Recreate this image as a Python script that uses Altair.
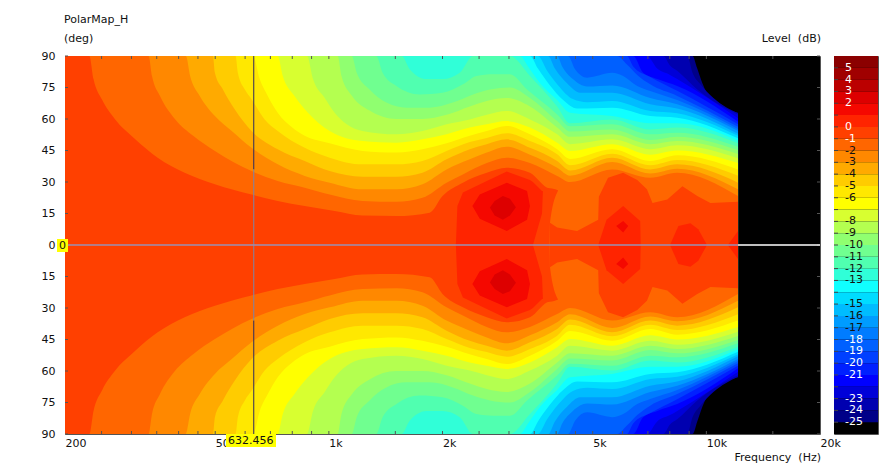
import altair as alt
import pandas as pd

FONT = "DejaVu Sans"
W, H = 755, 378
X_DOM, Y_DOM = [200, 20000], [-90, 90]
EDGE = 12130
CURSOR = 632.456

LEVELS = [5, 4, 3, 2, 1, 0, -1, -2, -3, -4, -5, -6, -7, -8, -9, -10, -11, -12, -13, -14, -15,
          -16, -17, -18, -19, -20, -21, -22, -23, -24, -25]
COLORS = ["#8b0000", "#a00000", "#bb0000", "#dd0000", "#f50800", "#ff2400", "#ff4000", "#ff6600",
          "#ff8800", "#ffaa00", "#ffcc00", "#ffe800", "#ffff00", "#d8ff30", "#b4ff50", "#90ff70",
          "#70ff90", "#50ffb0", "#30ffd8", "#10ffff", "#00dcff", "#00bcff", "#009cff", "#007cff",
          "#0060ff", "#0040ff", "#0020ff", "#0000ff", "#0000d8", "#0000b0", "#000088"]
BAR_LABELS = [5, 4, 3, 2, 0, -1, -2, -3, -4, -5, -6, -8, -9, -10, -11, -12, -13, -15, -16, -17,
              -18, -19, -20, -21, -23, -24, -25]
WHITE_LABELS = [5, 4, 3, 2, 0, -1, -18, -19, -20, -21, -23, -24, -25]

F_M25 = [200, 9190, 9460, 9760, 10250, 12130]
A_M25 = [90, 90, 84, 77, 70, 63]
F_M24 = [200, 8900, 9190, 9640, 10440, 12130]
A_M24 = [90, 90, 82, 76.5, 70, 62.7]
F_M23 = [200, 7690, 8010, 8370, 9460, 12130]
A_M23 = [90, 90, 85.5, 83, 74, 62]
F_M22 = [200, 6960, 7410, 8010, 8370, 12130]
A_M22 = [90, 90, 84, 81, 79, 60.3]
F_M21 = [200, 6400, 6800, 7410, 8370, 12130]
A_M21 = [90, 90, 82, 79, 75.7, 58.7]
F_M20 = [200, 6160, 6400, 7100, 8370, 12130]
A_M20 = [90, 90, 85, 80, 73.4, 57.5]
F_M19 = [200, 5800, 6160, 6560, 7100, 8370, 12130]
A_M19 = [90, 90, 86, 81, 76.5, 71, 56.3]
F_M18 = [200, 4300, 4490, 4830, 5630, 6020, 6560, 7100, 8370, 12130]
A_M18 = [90, 90, 83.7, 79.7, 82, 80.5, 75.7, 73.3, 69, 55.2]
F_M17 = [200, 4025, 4150, 4430, 4830, 5630, 7100, 8370, 12130]
A_M17 = [90, 90, 85, 79, 75.5, 76, 70, 67, 54.3]
F_M16 = [200, 3810, 3970, 4275, 4629, 5630, 7100, 8370, 12130]
A_M16 = [90, 90, 84, 77, 72.5, 72.5, 67, 65, 53]
F_M15 = [200, 3580, 3785, 4050, 4430, 4830, 5630, 7100, 8370, 12130]
A_M15 = [90, 90, 83, 76, 69.5, 68, 68.6, 63.8, 62.7, 52]
F_M14 = [200, 3410, 3580, 3853, 4175, 4545, 5630, 7100, 8370, 12130]
A_M14 = [90, 90, 84, 76, 69, 65, 65.4, 61.4, 60.6, 50.8]
F_M13 = [200, 3207, 3370, 3625, 4025, 4354, 5630, 7100, 8370, 12130]
A_M13 = [90, 90, 85, 77, 69, 63, 61.4, 58, 58, 49.7]
F_M12 = [200, 1560, 1637, 1815, 2000, 2222, 2410, 3017, 3410, 4025, 4354, 5630, 7100, 8370, 12130]
A_M12 = [90, 90, 83.7, 79, 79, 82, 90, 90, 80.5, 66, 58, 59.8, 55, 55.9, 48.4]
F_M11 = [200, 1335, 1388, 1510, 1740, 2000, 2265, 2460, 2720, 3017, 3350, 4025, 4354, 5630, 7100, 8370, 12130]
A_M11 = [90, 90, 82, 75.7, 71.7, 72.5, 76.5, 80.5, 81.3, 81.3, 74, 62.2, 56.5, 57.5, 52.7, 53.5, 46.8]
F_M10 = [200, 1150, 1185, 1282, 1420, 1605, 1850, 2130, 2410, 2670, 3017, 3410, 4025, 4354, 5630, 7100, 8370, 12130]
A_M10 = [90, 90, 82, 74, 67.8, 65.4, 65.4, 67.8, 71.7, 74, 75, 70, 59, 54, 55, 50, 51.6, 45.2]
F_M9 = [200, 1055, 1080, 1152, 1282, 1510, 1770, 2050, 2362, 2620, 2960, 3410, 4025, 4354, 5630, 7100, 8370, 12130]
A_M9 = [90, 90, 80.5, 71, 64, 60, 60, 62, 66, 68.6, 70, 66, 56, 51.5, 52.7, 48, 49.5, 43.3]
F_M8 = [200, 875, 908, 975, 1036, 1115, 1228, 1510, 1770, 2050, 2362, 2620, 2960, 3410, 4025, 4354, 5630, 7100, 8370, 12130]
A_M8 = [90, 90, 79, 70, 63, 57.5, 54.3, 52.7, 54.3, 57.5, 59.8, 62, 63.8, 59.8, 52.7, 48, 50.3, 45.6, 47.5, 41.3]
F_M7 = [200, 732, 755, 811, 880, 1005, 1228, 1510, 1770, 2050, 2362, 2620, 2960, 3410, 4025, 4354, 5630, 7100, 8370, 12130]
A_M7 = [90, 90, 80.5, 71, 63, 54.3, 49.5, 48.7, 50.3, 52.7, 55.9, 57.5, 59, 55.9, 48.7, 44.8, 48, 43, 45, 39]
F_M6 = [200, 630, 656, 689, 732, 800, 863, 1005, 1228, 1510, 1770, 2050, 2362, 2620, 2960, 3410, 4025, 4354, 5630, 7100, 8370, 12130]
A_M6 = [90, 90, 79, 71, 63, 55.9, 52, 48.4, 44.8, 44, 45.6, 48.4, 52, 54.3, 56.7, 52.7, 45.6, 41, 45.6, 40, 42.7, 36]
F_M5 = [200, 566, 574, 599, 624, 676, 732, 863, 1005, 1228, 1510, 1770, 2050, 2362, 2620, 2960, 3410, 4025, 4354, 5630, 7100, 8370, 12130]
A_M5 = [90, 90, 82, 74, 69.4, 59.8, 54.3, 46.3, 41.6, 38.4, 38.4, 40, 44.8, 49, 51, 53.2, 49.5, 43.2, 38, 43.5, 38, 40.5, 33]
F_M4 = [200, 493, 499, 524, 563, 624, 732, 863, 1005, 1228, 1510, 1770, 2050, 2362, 2620, 2960, 3410, 4025, 4354, 5630, 7100, 8370, 12130]
A_M4 = [90, 90, 82, 74, 64.6, 54.3, 45.6, 40, 35.2, 32.5, 32.5, 34.4, 40.8, 45.6, 48, 50.3, 46.3, 40, 35.5, 41.6, 36, 38.4, 29.7]
F_M3 = [200, 418, 429, 455, 499, 553, 624, 732, 863, 1005, 1228, 1510, 1770, 2050, 2362, 2620, 2960, 3410, 4025, 4354, 5630, 7100, 8370, 12130]
A_M3 = [90, 90, 80.5, 71, 61.4, 54.3, 46.3, 38.4, 32.9, 29.7, 26.5, 26.5, 28.9, 36, 40.8, 44, 46.8, 43, 36.8, 33, 39.5, 34, 36.3, 26.5]
F_M2 = [200, 333, 340, 357, 391, 437, 499, 624, 732, 863, 1005, 1228, 1510, 1770, 2050, 2265, 2620, 2960, 3410, 4025, 4354, 5630, 7100, 8370, 12130]
A_M2 = [90, 90, 80.5, 71, 60, 52, 44.8, 35.2, 30.5, 27.3, 24, 21, 20.6, 22.5, 29.7, 33.6, 39, 41.6, 39, 32.9, 30, 36, 32, 34.4, 23.3]
F_M1A = [200, 232, 238, 251, 271, 306, 352, 415, 499, 624, 732, 863, 1036, 1228, 1510, 1850, 2000, 2265, 2620, 2960, 3410, 3845, 3853, 4050]
A_M1A = [90, 90, 79, 69, 60, 50.6, 41.6, 34.4, 28.9, 24, 21, 18.6, 16.2, 14, 13.8, 15.4, 23.3, 29.7, 34.4, 36.8, 34.4, 27, 27, 26]
L_M1A = [0] * 22 + [10.6, 26]
F_M1B = [3853, 4025, 4545, 5170, 5190, 5490, 6020, 6560, 6960, 7200, 7880, 8640, 9460, 10250, 12130]
A_M1B = [10.6, 8.3, 6.7, 12, 23, 32, 34.4, 31, 26.5, 20, 21.7, 28, 23.3, 20, 20.6]
F_0A = [2170, 2190, 2265, 2620, 2960, 3410, 3472, 3670, 3690]
A_0A = [0, 18.6, 25, 30.5, 35, 31, 30, 25.7, 25.7]
L_0A = [0, 0, 0, 0, 0, 0, 0, 15, 25.7]
F_0B = [5170, 5440, 6020, 6680, 6700]
A_0B = [0, 12, 18.6, 11.4, 0]
F_0C = [8010, 8430, 9070, 9520, 10040]
A_0C = [0, 9, 10.3, 7.5, 0]
F_0D = [11400, 12130]
A_0D = [0, 6.7]
F_1A = [2400, 2510, 2960, 3350, 3410]
A_1A = [18.6, 24, 29.7, 25.7, 18.6]
L_1A = [18.6, 12.5, 6.7, 12, 18.6]
F_1B = [5770, 6020, 6210]
A_1B = [9, 11.4, 9]
L_1B = [9, 5.9, 9]
F_2 = [2670, 2750, 2890, 3017, 3130]
A_2 = [17.8, 21, 23.3, 22, 18]
L_2 = [17.8, 14, 12, 14, 18]

PIECES = [
    (-25, F_M25, A_M25, None), (-24, F_M24, A_M24, None), (-23, F_M23, A_M23, None),
    (-22, F_M22, A_M22, None), (-21, F_M21, A_M21, None), (-20, F_M20, A_M20, None),
    (-19, F_M19, A_M19, None), (-18, F_M18, A_M18, None), (-17, F_M17, A_M17, None),
    (-16, F_M16, A_M16, None), (-15, F_M15, A_M15, None), (-14, F_M14, A_M14, None),
    (-13, F_M13, A_M13, None), (-12, F_M12, A_M12, None), (-11, F_M11, A_M11, None),
    (-10, F_M10, A_M10, None), (-9, F_M9, A_M9, None), (-8, F_M8, A_M8, None),
    (-7, F_M7, A_M7, None), (-6, F_M6, A_M6, None), (-5, F_M5, A_M5, None),
    (-4, F_M4, A_M4, None), (-3, F_M3, A_M3, None), (-2, F_M2, A_M2, None),
    (-1, F_M1A, A_M1A, L_M1A), (-1, F_M1B, A_M1B, None),
    (0, F_0A, A_0A, L_0A), (0, F_0B, A_0B, None), (0, F_0C, A_0C, None), (0, F_0D, A_0D, None),
    (1, F_1A, A_1A, L_1A), (1, F_1B, A_1B, L_1B), (2, F_2, A_2, L_2),
]

X_TICKS = [200, 500, 1000, 2000, 5000, 10000, 20000]
X_MINOR = [250, 300, 350, 400, 450, 500, 600, 700, 800, 900, 1000, 1500, 2000, 2500, 3000, 3500,
           4000, 4500, 5000, 6000, 7000, 8000, 9000, 10000, 15000]
Y_TICKS = [-90, -75, -60, -45, -30, -15, 0, 15, 30, 45, 60, 75, 90]

xs = alt.Scale(type="log", domain=X_DOM, nice=False)
ys = alt.Scale(domain=Y_DOM, nice=False)
color_of = dict(zip(LEVELS, COLORS))


def area(F, hi, lo, color, interp):
    d = pd.DataFrame({"f": F, "hi": hi, "lo": lo})
    return alt.Chart(d).mark_area(color=color, clip=True, interpolate=interp).encode(
        x=alt.X("f:Q", scale=xs, axis=None),
        y=alt.Y("hi:Q", scale=ys, axis=None, stack=None),
        y2="lo:Q",
    )


layers = []
base = alt.Chart(pd.DataFrame({"f0": [X_DOM[0]], "f1": [X_DOM[1]], "a0": [Y_DOM[0]], "a1": [Y_DOM[1]]})).mark_rect(
    color="#000000", clip=True).encode(
    x=alt.X("f0:Q", scale=xs,
            axis=alt.Axis(values=X_TICKS, ticks=False, domain=False, grid=False, title=None,
                          labelAlign="left", labelFont=FONT, labelFontSize=11, labelColor="#111111",
                          labelPadding=3, labelFlush=False, labelOverlap=False,
                          labelExpr="datum.value >= 1000 ? (datum.value / 1000) + 'k' : datum.value")),
    x2="f1:Q",
    y=alt.Y("a0:Q", scale=ys,
            axis=alt.Axis(values=Y_TICKS, ticks=False, domain=False, grid=False, title=None,
                          labelFont=FONT, labelFontSize=11, labelColor="#111111", labelPadding=10,
                          labelOverlap=False, labelExpr="abs(datum.value)")),
    y2="a1:Q",
)
layers.append(base)
for lev, F, A, L in PIECES:
    low = L if L is not None else [0] * len(F)
    c = color_of[lev]
    interp = "linear" if lev >= 0 or F is F_M1B else "monotone"
    layers.append(area(F, A, low, c, interp))
    layers.append(area(F, [-v for v in A], [-v for v in low], c, interp))

# small inner ticks
minor = pd.DataFrame({"f": X_MINOR})
tick_col = "#555555"
for y0, y1 in ((0, 3), (H - 3, H)):
    layers.append(alt.Chart(minor).mark_rule(color=tick_col, size=1).encode(
        x=alt.X("f:Q", scale=xs, axis=None), y=alt.value(y0), y2=alt.value(y1)))
yt = pd.DataFrame({"a": Y_TICKS})
for x0, x1 in ((0, 3), (W - 3, W)):
    layers.append(alt.Chart(yt).mark_rule(color=tick_col, size=1).encode(
        y=alt.Y("a:Q", scale=ys, axis=None), x=alt.value(x0), x2=alt.value(x1)))

# cursors
CURSOR_SEGS = [(90, 36, "#2c2a5e"), (36, -36, "#7a86aa"), (-36, -90, "#2c2a5e")]
for a0, a1, col in CURSOR_SEGS:
    layers.append(alt.Chart(pd.DataFrame({"f": [CURSOR], "a0": [a0], "a1": [a1]})).mark_rule(color=col, size=1).encode(
        x=alt.X("f:Q", scale=xs, axis=None), y=alt.Y("a0:Q", scale=ys, axis=None), y2="a1:Q"))
layers.append(alt.Chart(pd.DataFrame({"a": [0], "f": [X_DOM[0]], "f2": [EDGE]})).mark_rule(color="#9a90b4", size=1.5).encode(
    y=alt.Y("a:Q", scale=ys, axis=None), x=alt.X("f:Q", scale=xs, axis=None), x2="f2:Q"))
layers.append(alt.Chart(pd.DataFrame({"a": [0], "f": [EDGE], "f2": [X_DOM[1]]})).mark_rule(color="#ffffff", size=1.5).encode(
    y=alt.Y("a:Q", scale=ys, axis=None), x=alt.X("f:Q", scale=xs, axis=None), x2="f2:Q"))

one = pd.DataFrame({"k": [0]})


def box(x0, x1, y0, y1):
    return alt.Chart(one).mark_rect(color="#ffff00", clip=False).encode(
        x=alt.value(x0), x2=alt.value(x1), y=alt.value(y0), y2=alt.value(y1))


def label(text, x, y, align="left", size=11, color="#111111"):
    return alt.Chart(one).mark_text(text=text, align=align, baseline="middle", font=FONT, fontSize=size,
                                    color=color, clip=False).encode(x=alt.value(x), y=alt.value(y))


layers += [
    box(161, 211, H, H + 13), label("632.456", 163, H + 7),
    box(-8, 3, H / 2 - 6, H / 2 + 7), label("0", -6, H / 2 + 0.5),
    label("PolarMap_H", -1, -36), label("(deg)", -1, -17),
    label("Level\u00a0\u00a0(dB)", W + 1, -17, "right"), label("Frequency\u00a0\u00a0(Hz)", W + 1, H + 24, "right"),
]
main = alt.layer(*layers).resolve_axis(x="independent", y="independent").properties(width=W, height=H)

# colour bar
bar_df = pd.DataFrame({"lo": LEVELS, "hi": [v + 1 for v in LEVELS], "c": COLORS})
bs = alt.Scale(domain=[-26, 6], nice=False)
bar_w = 44
bar_bg = alt.Chart(one).mark_rect(color="#000000").encode(
    x=alt.value(0), x2=alt.value(bar_w), y=alt.value(0), y2=alt.value(H))
bar_rects = alt.Chart(bar_df).mark_rect().encode(
    y=alt.Y("lo:Q", scale=bs, axis=None), y2="hi:Q", x=alt.value(0), x2=alt.value(bar_w),
    color=alt.Color("c:N", scale=None, legend=None))
tick_df = pd.DataFrame({"v": LEVELS})
bar_ticks = alt.Chart(tick_df).mark_rule(color="#444444", size=1).encode(
    y=alt.Y("v:Q", scale=bs, axis=None), x=alt.value(0), x2=alt.value(4))
lab_df = pd.DataFrame({"v": BAR_LABELS, "t": [str(v) for v in BAR_LABELS],
                       "c": ["#ffffff" if v in WHITE_LABELS else "#111111" for v in BAR_LABELS]})
bar_text = alt.Chart(lab_df).mark_text(align="left", baseline="middle", font=FONT, fontSize=11).encode(
    y=alt.Y("v:Q", scale=bs, axis=None), x=alt.value(11), text="t:N",
    color=alt.Color("c:N", scale=None, legend=None))
bar = alt.layer(bar_bg, bar_rects, bar_ticks, bar_text).properties(width=bar_w, height=H)

chart = alt.hconcat(main, bar, spacing=14, bounds="flush").resolve_scale(
    x="independent", y="independent", color="independent"
).properties(padding={"left": 32, "top": 5, "right": 5, "bottom": 5}, background="#ffffff"
).configure_view(stroke="#555555", strokeWidth=1)

chart.save("out.html", embed_options={"renderer": "svg", "actions": False})
